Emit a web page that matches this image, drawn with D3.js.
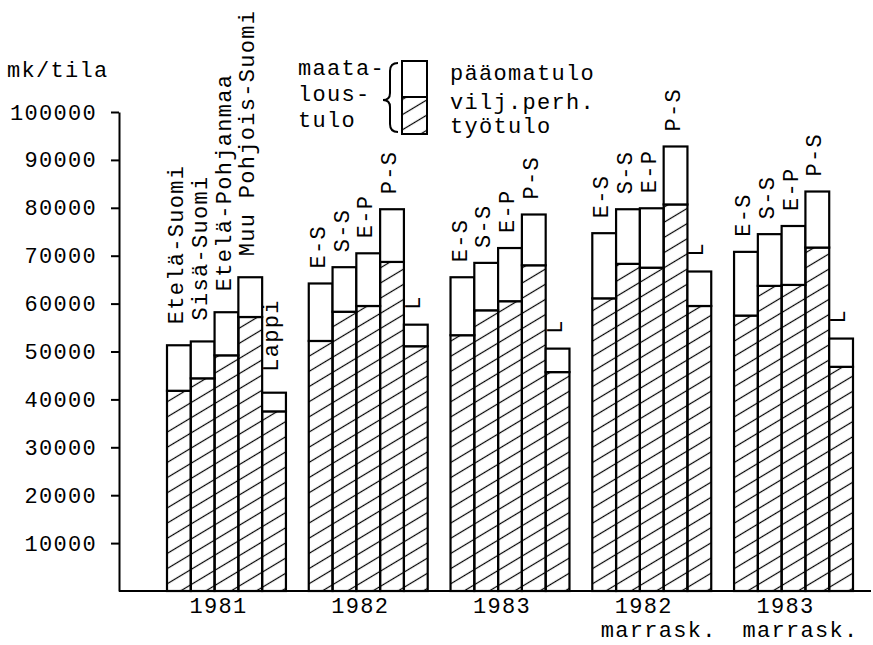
<!DOCTYPE html>
<html lang="fi">
  <head>
    <meta charset="UTF-8" />
    <title>mk/tila</title>
    <script src="https://d3js.org/d3.v7.min.js"></script>
    <style>
      body { margin: 0; background: white; }
      text { font-family: "Liberation Mono", "DejaVu Sans Mono", monospace; font-size: 22px; letter-spacing: 1.3px; fill: black; }
    </style>
  </head>
  <body>
    <div id="chart"></div>
    <script>
      // ryhmät (vuodet) ja alueet
      const groups = ["1981", "1982", "1983", "1982", "1983"];
      const groupSub = ["", "", "", "marrask.", "marrask."];
      const regions = ["Etelä-Suomi", "Sisä-Suomi", "Etelä-Pohjanmaa", "Muu Pohjois-Suomi", "Lappi"];
      const regionAbbr = ["E-S", "S-S", "E-P", "P-S", "L"];

      // viljelijäperheen työtulo (vinoviivoitettu osa), mk/tila
      const tyotulo = [
        [41800, 44400, 49200, 57200, 37500],
        [52200, 58300, 59500, 68700, 51100],
        [53400, 58600, 60500, 68000, 45700],
        [61100, 68300, 67500, 80700, 59500],
        [57500, 63700, 63900, 71700, 46800]
      ];
      // maataloustulo yhteensä (työtulo + pääomatulo), mk/tila
      const maataloustulo = [
        [51300, 52100, 58200, 65500, 41400],
        [64200, 67600, 70500, 79700, 55600],
        [65500, 68500, 71600, 78600, 50600],
        [74700, 79700, 79900, 92800, 66700],
        [70800, 74500, 76200, 83400, 52700]
      ];
      const yTicks = [10000, 20000, 30000, 40000, 50000, 60000, 70000, 80000, 90000, 100000];

      const width = 873, height = 645;
      const svg = d3.select("#chart").append("svg")
        .attr("width", width).attr("height", height);

      // vinoviivoitus
      const defs = svg.append("defs");
      const pat = defs.append("pattern")
        .attr("id", "hatch")
        .attr("patternUnits", "userSpaceOnUse")
        .attr("width", 20).attr("height", 13)
        .attr("patternTransform", "rotate(-31)");
      pat.append("path")
        .attr("d", "M-2,6.5H22")
        .attr("stroke", "black")
        .attr("stroke-width", 1.2);

      const axisX = 119;
      const y = d3.scaleLinear().domain([0, 100000]).range([591, 112]);

      const x = d3.scaleBand()
        .domain(d3.range(groups.length))
        .range([167, 853])
        .paddingInner(0.161)
        .paddingOuter(0);
      const xr = d3.scaleBand()
        .domain(d3.range(regions.length))
        .range([0, x.bandwidth()]);

      // y-akseli
      svg.append("g")
        .attr("transform", `translate(${axisX},0)`)
        .call(d3.axisLeft(y).tickValues(yTicks).tickSize(8).tickSizeOuter(0).tickPadding(14).tickFormat(d => d))
        .call(g => g.selectAll("path, line").attr("stroke", "black").attr("stroke-width", 2))
        .call(g => g.selectAll("text").attr("font-size", null).attr("font-family", null));

      svg.append("text").attr("x", 7).attr("y", 77).text("mk/tila");

      // perusviiva
      svg.append("line")
        .attr("x1", axisX).attr("x2", 871)
        .attr("y1", y(0)).attr("y2", y(0))
        .attr("stroke", "black").attr("stroke-width", 2.2);

      groups.forEach((gname, gi) => {
        const g = svg.append("g").attr("transform", `translate(${x(gi)},0)`);
        regions.forEach((r, ri) => {
          const bx = xr(ri), bw = xr.bandwidth();
          const tyo = tyotulo[gi][ri], tot = maataloustulo[gi][ri];
          g.append("rect")
            .attr("x", bx).attr("width", bw)
            .attr("y", y(tyo)).attr("height", y(0) - y(tyo))
            .attr("fill", "url(#hatch)")
            .attr("stroke", "black").attr("stroke-width", 2.2);
          g.append("rect")
            .attr("x", bx).attr("width", bw)
            .attr("y", y(tot)).attr("height", y(tyo) - y(tot))
            .attr("fill", "white")
            .attr("stroke", "black").attr("stroke-width", 2.2);
          const label = gi === 0 ? r : regionAbbr[ri];
          const gap = gi === 0 ? 21 : 15;
          g.append("text")
            .attr("transform", `translate(${bx + 16},${y(tot) - gap}) rotate(-90)`)
            .text(label);
        });
        const cx = x(gi) + x.bandwidth() / 2;
        svg.append("text")
          .attr("x", cx - 8).attr("y", 613)
          .attr("text-anchor", "middle")
          .text(gname);
        if (groupSub[gi]) {
          svg.append("text")
            .attr("x", cx + 7).attr("y", 637)
            .attr("text-anchor", "middle")
            .text(groupSub[gi]);
        }
      });

      // selite
      const leg = svg.append("g");
      leg.append("text").attr("x", 298).attr("y", 75).text("maata-");
      leg.append("text").attr("x", 298).attr("y", 101).text("lous-");
      leg.append("text").attr("x", 298).attr("y", 127).text("tulo");
      leg.append("path")
        .attr("d", "M398,63 Q390,63 390,71 L390,93 Q390,100 383,100 Q390,100 390,107 L390,124 Q390,132 398,132")
        .attr("fill", "none").attr("stroke", "black").attr("stroke-width", 2);
      leg.append("rect")
        .attr("x", 402).attr("y", 97).attr("width", 25).attr("height", 37)
        .attr("fill", "url(#hatch)").attr("stroke", "black").attr("stroke-width", 2);
      leg.append("rect")
        .attr("x", 402).attr("y", 61).attr("width", 25).attr("height", 36)
        .attr("fill", "white").attr("stroke", "black").attr("stroke-width", 2);
      leg.append("text").attr("x", 450).attr("y", 80).text("pääomatulo");
      leg.append("text").attr("x", 450).attr("y", 109).text("vilj.perh.");
      leg.append("text").attr("x", 450).attr("y", 133).text("työtulo");
    </script>
  </body>
</html>
